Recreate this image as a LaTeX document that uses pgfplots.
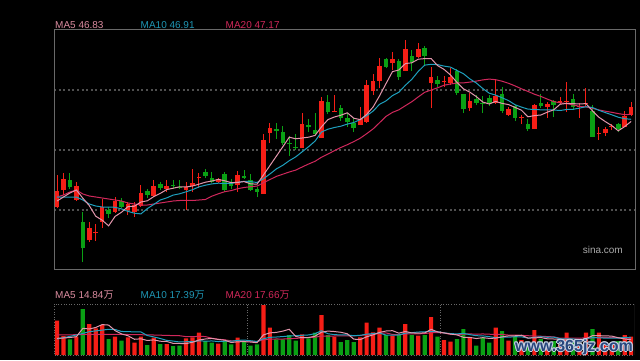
\documentclass[border=0pt]{standalone}
\usepackage{pgfplots}
\pgfplotsset{compat=1.18}
\usepackage{pgfplotstable}
\usepackage{fontspec}
\setmainfont{Liberation Sans}
\newfontfamily\cjk{Noto Sans CJK SC}
\definecolor{cnred}{RGB}{246,30,22}
\definecolor{cngreen}{RGB}{10,160,20}
\definecolor{ma5c}{RGB}{226,150,172}
\definecolor{ma10c}{RGB}{30,160,190}
\definecolor{ma20c}{RGB}{208,40,92}
\definecolor{ma5t}{RGB}{220,140,160}
\definecolor{ma10t}{RGB}{30,150,180}
\definecolor{ma20t}{RGB}{210,40,90}
\definecolor{framec}{RGB}{105,105,105}
\definecolor{gridc}{RGB}{80,80,80}
\definecolor{wmblue}{RGB}{40,70,125}
\definecolor{wmhalo}{RGB}{200,210,228}

\pgfplotstableread{
i o h l c v
0 38.0 41.2 37.9 39.6 34.3
1 39.7 41.4 39.2 40.8 19.0
3 38.7 40.5 38.6 40.1 18.3
5 34.7 36.5 34.5 35.9 31.0
6 35.4 36.3 34.6 35.5 26.7
7 36.5 38.8 35.9 38.0 30.0
9 37.5 39.0 37.4 38.6 18.3
11 37.7 38.5 37.2 38.3 17.7
12 37.5 38.5 37.0 38.2 12.3
13 38.1 40.2 38.0 39.4 18.3
15 39.1 40.7 39.0 40.1 17.3
17 39.8 40.7 39.5 40.1 11.0
20 39.7 40.5 37.7 40.0 16.7
21 40.1 41.8 39.5 40.4 17.7
22 40.9 41.4 39.9 41.0 22.3
25 40.5 40.9 40.4 40.8 11.3
28 40.2 41.6 39.5 41.2 17.3
32 39.3 45.3 39.3 44.7 50.0
33 45.4 46.4 44.4 45.9 27.3
38 43.9 47.4 43.9 46.3 20.7
41 44.9 49.0 44.9 48.6 40.0
43 47.5 49.2 47.5 47.6 18.3
47 46.2 48.0 46.2 46.8 17.7
48 46.5 50.7 46.4 50.2 32.3
49 49.6 51.3 49.2 50.6 22.7
50 50.6 52.9 49.9 52.1 27.3
52 52.4 53.5 51.7 52.8 19.3
54 51.6 54.7 51.6 53.8 31.0
56 53.0 54.4 52.9 53.8 19.3
58 50.4 52.0 47.9 51.0 38.0
60 50.5 51.1 50.0 50.6 15.0
61 50.4 51.9 50.2 51.0 13.3
64 47.9 49.4 47.6 48.6 17.7
68 48.4 50.8 48.3 49.1 27.3
70 47.2 48.0 47.1 47.8 14.3
72 46.9 47.2 46.3 47.0 15.0
74 45.8 48.3 45.8 48.2 25.0
76 48.0 48.5 46.9 48.3 12.0
78 48.4 49.0 48.3 48.6 11.0
79 48.5 50.5 47.5 48.6 22.3
81 48.0 48.4 46.9 48.1 12.0
82 48.3 49.9 48.1 48.4 22.3
84 45.3 46.0 44.7 45.4 22.3
85 45.4 46.0 45.1 45.8 13.0
86 46.0 46.3 45.7 46.1 11.0
88 46.0 47.6 46.0 47.1 20.0
89 47.2 48.5 47.1 48.0 18.3
}\up

\pgfplotstableread{
i o h l c v
2 40.7 41.4 39.8 40.0 15.7
4 36.5 37.5 32.5 33.9 46.0
8 37.7 38.0 36.9 37.3 16.0
10 38.6 38.9 37.9 38.0 14.3
14 39.6 39.8 38.9 39.2 10.0
16 40.3 40.5 39.7 39.9 11.0
18 40.2 40.7 39.8 40.1 9.0
19 40.0 40.7 39.8 39.9 9.3
23 41.5 41.8 40.9 41.1 14.0
24 40.9 41.5 40.4 40.5 12.3
26 41.3 41.5 39.5 39.7 14.3
27 40.5 40.8 39.8 40.1 10.7
29 41.1 41.7 40.8 40.9 13.3
30 40.7 41.3 39.6 39.7 9.3
31 39.8 40.0 39.0 39.5 10.7
34 45.8 46.4 44.8 45.6 15.7
35 45.5 46.1 44.2 44.4 15.7
36 44.4 45.1 43.1 44.3 20.0
37 44.0 45.3 43.7 43.9 14.3
39 46.2 46.8 45.5 46.0 16.7
40 45.7 47.4 45.2 45.3 22.3
42 48.5 49.2 47.3 47.5 20.0
44 47.9 48.2 46.6 46.9 13.0
45 46.9 47.4 46.0 46.5 15.0
46 46.4 46.9 45.5 45.9 13.0
51 52.8 52.9 51.9 52.0 20.0
53 52.6 52.8 50.7 51.0 20.0
55 53.1 53.7 51.6 52.5 20.0
57 53.9 54.1 52.2 53.1 20.0
59 50.7 51.1 50.0 50.3 18.3
62 51.6 51.8 49.2 49.4 16.0
63 49.3 49.3 47.4 47.8 26.0
65 48.8 49.2 48.2 48.4 9.3
66 48.4 49.1 47.4 48.3 17.7
67 48.9 49.2 48.1 48.4 12.3
69 49.3 50.0 47.4 47.6 24.0
71 48.1 48.2 46.6 46.9 18.3
73 46.3 46.8 45.6 45.8 13.0
75 48.4 49.3 47.9 48.1 16.0
77 48.6 48.7 47.0 48.2 14.0
80 48.8 49.3 47.7 48.0 14.0
83 47.6 48.2 45.0 45.0 26.0
87 46.3 46.4 45.5 45.8 14.0
}\down

\pgfplotstableread{
i m5 m10 m20
0 38.6 39.0 39.0
1 39.0 39.0 39.2
2 39.4 39.0 39.5
3 39.7 39.0 39.7
4 38.88 38.7 39.3
5 38.14 38.3 39.1
6 37.08 38.1 39.0
7 36.68 38.0 38.9
8 36.12 38.0 38.8
9 37.06 37.97 38.7
10 37.48 37.81 38.6
11 38.04 37.56 38.4
12 38.08 37.38 38.3
13 38.5 37.31 38.2
14 38.62 37.84 38.2
15 39.04 38.26 38.3
16 39.36 38.7 38.4
17 39.74 38.91 38.5
18 39.88 39.19 38.6
19 40.02 39.32 38.65
20 40.0 39.52 38.67
21 40.1 39.73 38.65
22 40.28 40.01 38.7
23 40.48 40.18 38.75
24 40.6 40.31 39.08
25 40.76 40.38 39.32
26 40.62 40.36 39.53
27 40.44 40.36 39.64
28 40.46 40.47 39.83
29 40.54 40.57 39.95
30 40.32 40.54 40.03
31 40.28 40.45 40.09
32 41.2 40.82 40.42
33 42.14 41.3 40.74
34 43.08 41.81 41.06
35 44.02 42.17 41.28
36 44.98 42.63 41.5
37 44.82 43.01 41.69
38 44.9 43.52 42.0
39 44.98 44.03 42.3
40 45.16 44.59 42.57
41 46.02 45.5 42.98
42 46.74 45.78 43.3
43 47.0 45.95 43.63
44 47.18 46.08 43.95
45 47.42 46.29 44.23
46 46.88 46.45 44.54
47 46.74 46.74 44.88
48 47.26 47.13 45.33
49 48.0 47.59 45.81
50 49.12 48.27 46.43
51 50.34 48.61 47.06
52 51.54 49.14 47.46
53 51.7 49.48 47.72
54 52.34 50.17 48.13
55 52.42 50.77 48.53
56 52.78 51.56 49.01
57 52.84 52.19 49.47
58 52.84 52.27 49.7
59 52.14 52.24 49.92
60 51.76 52.09 50.18
61 51.2 51.99 50.3
62 50.46 51.65 50.4
63 49.82 51.33 50.41
64 49.48 50.81 50.49
65 49.04 50.4 50.59
66 48.5 49.85 50.71
67 48.3 49.38 50.79
68 48.56 49.19 50.73
69 48.36 48.92 50.58
70 48.24 48.64 50.37
71 47.96 48.23 50.11
72 47.68 47.99 49.82
73 47.02 47.79 49.56
74 47.14 47.75 49.28
75 47.2 47.72 49.06
76 47.48 47.72 48.79
77 47.72 47.7 48.54
78 48.28 47.65 48.42
79 48.36 47.75 48.34
80 48.34 47.77 48.21
81 48.3 47.89 48.06
82 48.34 48.03 48.01
83 47.62 47.95 47.87
84 46.98 47.67 47.71
85 46.54 47.44 47.58
86 46.14 47.22 47.47
87 45.62 46.98 47.34
88 46.04 46.83 47.24
89 46.56 46.77 47.26
}\ma

\pgfplotstableread{
i v5 v10 v20
0 16.7 16.0 20.0
1 17.0 17.3 20.1
2 17.5 18.6 20.2
3 18.3 20.0 20.3
4 26.66 21.6 20.5
5 26.0 23.3 20.6
6 27.54 24.1 20.6
7 30.4 24.9 20.7
8 29.94 25.7 20.7
9 24.4 25.53 20.7
10 21.06 23.53 20.6
11 19.26 23.4 20.5
12 15.72 23.06 20.4
13 16.18 23.06 20.3
14 14.52 19.46 20.1
15 15.12 18.09 20.0
16 13.78 16.52 19.8
17 13.52 14.62 19.6
18 11.66 13.92 19.4
19 11.52 13.02 19.28
20 11.4 13.26 18.4
21 12.74 13.26 18.33
22 15.0 14.26 18.66
23 16.0 13.83 18.45
24 16.6 14.06 16.76
25 15.52 13.46 15.78
26 14.84 13.79 15.16
27 12.52 13.76 14.19
28 13.18 14.59 14.26
29 13.38 14.99 14.01
30 12.98 14.25 13.76
31 12.26 13.55 13.41
32 20.12 16.32 15.29
33 22.12 17.65 15.74
34 22.6 17.99 16.03
35 23.88 18.43 15.95
36 25.74 19.0 16.4
37 18.6 19.36 16.56
38 17.28 19.7 17.15
39 17.48 20.04 17.52
40 18.8 21.34 17.8
41 22.8 24.27 18.91
42 23.94 21.27 18.8
43 23.46 20.37 19.01
44 22.72 20.1 19.05
45 21.26 20.03 19.23
46 15.86 19.33 19.17
47 15.4 19.67 19.52
48 18.2 20.83 20.27
49 20.14 21.43 20.74
50 22.6 21.93 21.64
51 24.0 19.93 22.1
52 24.32 19.86 20.57
53 21.86 20.03 20.2
54 23.52 21.83 20.97
55 22.06 22.33 21.18
56 21.92 22.96 21.15
57 22.06 23.19 21.43
58 25.66 23.76 22.3
59 23.12 23.32 22.38
60 22.12 22.09 22.01
61 20.92 21.42 20.68
62 20.12 21.09 20.48
63 17.72 21.69 20.86
64 17.6 20.36 21.1
65 16.46 19.29 20.81
66 17.34 19.13 21.05
67 16.6 18.36 20.78
68 16.86 17.29 20.53
69 18.12 17.86 20.59
70 19.12 17.79 19.94
71 19.24 18.29 19.86
72 19.78 18.19 19.64
73 16.92 16.89 19.29
74 17.12 17.62 18.99
75 17.46 18.29 18.79
76 16.2 17.72 18.43
77 16.0 17.89 18.13
78 15.6 16.26 16.78
79 15.06 16.09 16.98
80 14.66 16.06 16.93
81 14.66 15.43 16.86
82 16.32 16.16 17.18
83 19.32 17.46 17.18
84 19.32 17.19 17.41
85 19.12 16.89 17.59
86 18.92 16.79 17.26
87 17.26 16.79 17.34
88 16.06 17.69 16.98
89 15.26 17.29 16.69
}\vma

\begin{document}
\begin{tikzpicture}
\path[use as bounding box, fill=black] (0pt,0pt) rectangle (640pt,360pt);

% ---------- price panel ----------
\begin{axis}[
  at={(54pt,91pt)}, anchor=south west, scale only axis,
  width=581pt, height=240pt,
  xmin=-0.47, xmax=89.6, ymin=31.8, ymax=55.8,
  axis line style={draw=framec, line width=1pt},
  xtick=\empty, ytick={37.7,43.7,49.7}, yticklabels={},
  major tick length=0pt,
  ymajorgrids, grid style={gridc, line width=1.3pt, dash pattern=on 2pt off 2.6pt},
]
% wicks
\addplot[draw=none, mark=none, forget plot,
  error bars/.cd, y dir=plus, y explicit, error mark=none,
  error bar style={draw=cnred, line width=1pt}]
  table[x=i, y=l, y error plus expr=\thisrow{h}-\thisrow{l}] {\up};
\addplot[draw=none, mark=none, forget plot,
  error bars/.cd, y dir=plus, y explicit, error mark=none,
  error bar style={draw=cngreen, line width=1pt}]
  table[x=i, y=l, y error plus expr=\thisrow{h}-\thisrow{l}] {\down};
% bodies
\addplot[draw=none, mark=none, forget plot,
  error bars/.cd, y dir=plus, y explicit, error mark=none,
  error bar style={draw=cnred, line width=4.6pt}]
  table[x=i, y=o, y error plus expr={max(\thisrow{c}-\thisrow{o},0.09)}] {\up};
\addplot[draw=none, mark=none, forget plot,
  error bars/.cd, y dir=plus, y explicit, error mark=none,
  error bar style={draw=cngreen, line width=4.6pt}]
  table[x=i, y=c, y error plus expr={max(\thisrow{o}-\thisrow{c},0.09)}] {\down};
% moving averages
\addplot[ma20c, line width=1pt, mark=none] table[x=i, y=m20] {\ma};
\addplot[ma10c, line width=1pt, mark=none] table[x=i, y=m10] {\ma};
\addplot[ma5c, line width=1pt, mark=none] table[x=i, y=m5] {\ma};
\end{axis}

% ---------- volume panel ----------
\begin{axis}[
  at={(54pt,5pt)}, anchor=south west, scale only axis,
  width=580pt, height=51pt,
  xmin=-0.47, xmax=89.45, ymin=0, ymax=51,
  axis line style={draw=none},
  xtick={29.6,59.5}, xticklabels={}, ytick=\empty, major tick length=0pt,
  xmajorgrids, grid style={framec, line width=1pt, dash pattern=on 1pt off 1.6pt},
]
\addplot[ybar, bar width=4.2pt, bar shift=0pt, fill=cnred, draw=none, forget plot] table[x=i, y=v] {\up};
\addplot[ybar, bar width=4.2pt, bar shift=0pt, fill=cngreen, draw=none, forget plot] table[x=i, y=v] {\down};
\addplot[ma20c, line width=1pt, mark=none] table[x=i, y=v20] {\vma};
\addplot[ma10c, line width=1pt, mark=none] table[x=i, y=v10] {\vma};
\addplot[ma5c, line width=1pt, mark=none] table[x=i, y=v5] {\vma};
\draw[framec, line width=1pt, dash pattern=on 1pt off 1.6pt] (rel axis cs:1,1) -- (rel axis cs:0,1) -- (rel axis cs:0,0) -- (rel axis cs:1,0);
\draw[framec, line width=1pt] (rel axis cs:1,0) -- (rel axis cs:1,1);
\end{axis}

% ---------- labels ----------
\begin{scope}[every node/.style={anchor=base west, inner sep=0pt, font=\fontsize{10}{12}\selectfont}]
\node[text=ma5t] at (55pt,332pt) {MA5 46.83};
\node[text=ma10t] at (140.5pt,332pt) {MA10 46.91};
\node[text=ma20t] at (225.5pt,332pt) {MA20 47.17};
\node[text=ma5t] at (55pt,62pt) {MA5 14.84{\cjk 万}};
\node[text=ma10t] at (140.5pt,62pt) {MA10 17.39{\cjk 万}};
\node[text=ma20t] at (225.5pt,62pt) {MA20 17.66{\cjk 万}};
\end{scope}
\node[anchor=base east, inner sep=0pt, text={rgb,255:red,170;green,170;blue,170}, font=\fontsize{10}{12}\selectfont] at (623pt,107pt) {sina.com};

% watermark
\foreach \dx/\dy in {-1/0,1/0,0/-1,0/1,-0.8/-0.8,0.8/0.8,-0.8/0.8,0.8/-0.8}{
  \node[anchor=base east, inner sep=0pt, text=wmhalo, font=\bfseries\fontsize{16}{18}\selectfont, xshift=\dx pt, yshift=\dy pt] at (633pt,9pt) {www.365jz.com};
}
\node[anchor=base east, inner sep=0pt, text=wmblue, font=\bfseries\fontsize{16}{18}\selectfont] at (633pt,9pt) {www.365jz.com};
\end{tikzpicture}
\end{document}
